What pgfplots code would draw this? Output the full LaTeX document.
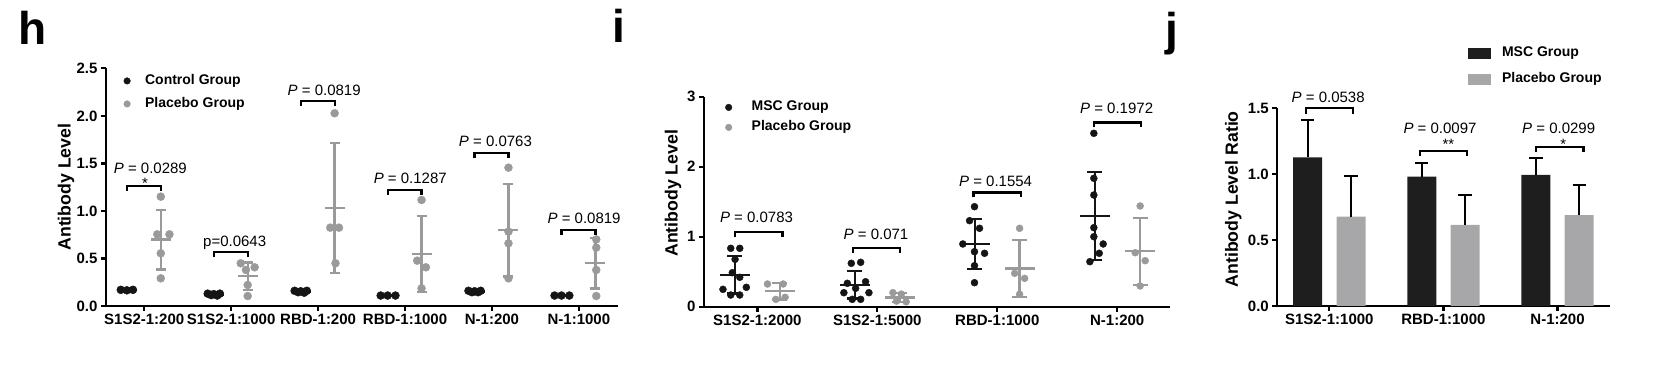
\documentclass[border=0pt]{standalone}
\usepackage{pgfplots}
\pgfplotsset{compat=1.18}
\usepackage{fontspec}
\setmainfont{Liberation Sans}
\newcommand\fs[1]{\fontsize{#1}{#1}\selectfont}
\definecolor{ctl}{HTML}{151515}
\definecolor{plc}{HTML}{9A9A9A}
\definecolor{barblk}{HTML}{1E1E1E}
\definecolor{bargry}{HTML}{A7A7A9}
\tikzset{brk/.style={line width=2.2bp, color=black}}
\pgfplotsset{
  prism/.style={
    scale only axis,
    axis lines*=left,
    axis line style={line width=2.3bp,-},
    tick style={line width=2.3bp,black},
    major tick length=5bp,
    tick align=outside,
    clip=false,
    ticklabel style={font=\fs{15bp}\bfseries},
    ylabel style={font=\fs{17.7bp}\bfseries, anchor=center},
    legend cell align=left,
  },
  meanc/.style={only marks, mark=-, mark size=#1, color=ctl, mark options={line width=2.3bp},
    forget plot, error bars/y dir=both, error bars/y explicit, error bars/error mark=-,
    error bars/error bar style={line width=2.3bp, color=ctl}},
  meanp/.style={only marks, mark=-, mark size=#1, color=plc, mark options={line width=2.3bp},
    forget plot, error bars/y dir=both, error bars/y explicit, error bars/error mark=-,
    error bars/error bar style={line width=2.3bp, color=plc}},
}
\begin{document}
\begin{tikzpicture}
\useasboundingbox (0,0) rectangle (1672bp,366bp);
\node[anchor=base west, font=\fs{46bp}\bfseries, inner sep=0pt] at (18bp,321bp) {h};
\node[anchor=base west, font=\fs{46bp}\bfseries, inner sep=0pt] at (612bp,323bp) {i};
\node[anchor=base west, font=\fs{46bp}\bfseries, inner sep=0pt] at (1165bp,320.5bp) {j};

% ---------------- panel h ----------------
\begin{axis}[prism, at={(106bp,60bp)}, anchor=south west, width=512bp, height=237.7bp,
  xmin=-0.44, xmax=5.45, ymin=0, ymax=2.5,
  xtick={0,1,2,3,4,5},
  xticklabels={S1S2-1:200,S1S2-1:1000,RBD-1:200,RBD-1:1000,N-1:200,N-1:1000},
  ytick={0,0.5,1,1.5,2,2.5}, yticklabels={0.0,0.5,1.0,1.5,2.0,2.5},
  ylabel={Antibody Level}, ylabel style={at={(axis description cs:-0.078,0.5)}},
  legend image code/.code={\path[draw=none,fill=none] (-3.5bp,0bp) rectangle (18bp,0bp); \fill[#1] (0bp,0bp) circle (3.3bp);},
  legend style={at={(axis description cs:0.034,0.975)}, anchor=north west, draw=none, fill=none,
    inner sep=0pt, font=\fs{14bp}\bfseries, row sep=10bp, column sep=0pt,
    nodes={inner sep=0pt, text height=10bp, text depth=3bp}},
]
\addlegendimage{ctl}\addlegendentry{Control Group}
\addlegendimage{plc}\addlegendentry{Placebo Group}
% control points
\addplot[only marks, mark=*, mark size=4bp, color=ctl, forget plot] coordinates {
 (-0.27,0.170) (-0.20,0.165) (-0.13,0.170)
 (0.73,0.130) (0.77,0.115) (0.80,0.125) (0.84,0.110) (0.87,0.130)
 (1.73,0.160) (1.77,0.145) (1.80,0.155) (1.84,0.140) (1.87,0.160)
 (2.72,0.110) (2.80,0.110) (2.89,0.110)
 (3.73,0.160) (3.77,0.145) (3.80,0.155) (3.84,0.145) (3.87,0.160)
 (4.72,0.110) (4.80,0.110) (4.89,0.110)
};
% placebo points
\addplot[only marks, mark=*, mark size=4bp, color=plc, forget plot] coordinates {
 (0.19,1.150) (0.15,0.754) (0.29,0.754) (0.19,0.554) (0.19,0.291)
 (1.11,0.449) (1.17,0.379) (1.27,0.407) (1.19,0.221) (1.19,0.105)
 (2.19,2.027) (2.14,0.824) (2.24,0.824) (2.20,0.449)
 (3.19,1.115) (3.14,0.477) (3.24,0.407) (3.19,0.186)
 (4.19,1.455) (4.19,0.782) (4.19,0.659) (4.19,0.291)
 (5.20,0.700) (5.20,0.614) (5.20,0.379) (5.20,0.105)
};
\addplot[meanc=10bp, error bars/error mark options={rotate=90, mark size=5bp, line width=2.3bp, color=ctl}] coordinates {
 (-0.2,0.168) +- (0,0.003) (0.8,0.122) +- (0,0.009) (1.8,0.152) +- (0,0.009)
 (2.8,0.110) +- (0,0.001) (3.8,0.153) +- (0,0.007) (4.8,0.110) +- (0,0.001)
};
\addplot[meanp=10bp, error bars/error mark options={rotate=90, mark size=5bp, line width=2.3bp, color=plc}] coordinates {
 (0.19,0.698) +- (0,0.315) (1.19,0.312) +- (0,0.144) (2.19,1.031) +- (0,0.687)
 (3.19,0.546) +- (0,0.399) (4.19,0.797) +- (0,0.486) (5.19,0.450) +- (0,0.267)
};
\draw[brk] (axis cs:-0.2,1.213) -- (axis cs:-0.2,1.266) -- (axis cs:0.19,1.266) -- (axis cs:0.19,1.213);
\draw[brk] (axis cs:0.8,0.512) -- (axis cs:0.8,0.565) -- (axis cs:1.19,0.565) -- (axis cs:1.19,0.512);
\draw[brk] (axis cs:1.8,2.107) -- (axis cs:1.8,2.160) -- (axis cs:2.19,2.160) -- (axis cs:2.19,2.107);
\draw[brk] (axis cs:2.8,1.167) -- (axis cs:2.8,1.220) -- (axis cs:3.19,1.220) -- (axis cs:3.19,1.167);
\draw[brk] (axis cs:3.8,1.553) -- (axis cs:3.8,1.606) -- (axis cs:4.19,1.606) -- (axis cs:4.19,1.553);
\draw[brk] (axis cs:4.8,0.747) -- (axis cs:4.8,0.800) -- (axis cs:5.19,0.800) -- (axis cs:5.19,0.747);
\node[font=\fs{15bp}, inner sep=0pt] at (axis cs:0.07,1.45) {\textit{P} = 0.0289};
\node[font=\fs{15bp}, inner sep=0pt, anchor=base] at (axis cs:0.01,1.235) {*};
\node[font=\fs{15bp}, inner sep=0pt] at (axis cs:1.04,0.666) {p=0.0643};
\node[font=\fs{15bp}, inner sep=0pt] at (axis cs:2.07,2.27) {\textit{P} = 0.0819};
\node[font=\fs{15bp}, inner sep=0pt] at (axis cs:3.06,1.343) {\textit{P} = 0.1287};
\node[font=\fs{15bp}, inner sep=0pt] at (axis cs:4.04,1.73) {\textit{P} = 0.0763};
\node[font=\fs{15bp}, inner sep=0pt] at (axis cs:5.06,0.922) {\textit{P} = 0.0819};
\end{axis}

% ---------------- panel i ----------------
\begin{axis}[prism, at={(704bp,59.3bp)}, anchor=south west, width=466bp, height=210bp,
  xmin=-0.445, xmax=3.44, ymin=0, ymax=3,
  xtick={0,1,2,3}, xticklabels={S1S2-1:2000,S1S2-1:5000,RBD-1:1000,N-1:200},
  ytick={0,1,2,3}, yticklabels={0,1,2,3},
  ylabel={Antibody Level}, ylabel style={at={(axis description cs:-0.0665,0.54)}},
  legend image code/.code={\path[draw=none,fill=none] (-3.5bp,0bp) rectangle (23bp,0bp); \fill[#1] (0bp,0bp) circle (3.3bp);},
  legend style={at={(axis description cs:0.045,0.981)}, anchor=north west, draw=none, fill=none,
    inner sep=0pt, font=\fs{14bp}\bfseries, row sep=7bp, column sep=0pt,
    nodes={inner sep=0pt, text height=10bp, text depth=3bp}},
]
\addlegendimage{ctl}\addlegendentry{MSC Group}
\addlegendimage{plc}\addlegendentry{Placebo Group}
\addplot[only marks, mark=*, mark size=3.5bp, color=ctl, forget plot] coordinates {
 (-0.222,0.834) (-0.147,0.834) (-0.186,0.677) (-0.209,0.486) (-0.147,0.420)
 (-0.287,0.248) (-0.222,0.167) (-0.147,0.167) (-0.092,0.277)
 (0.783,0.620) (0.861,0.634) (0.750,0.334) (0.902,0.357) (0.721,0.200)
 (0.819,0.263) (0.930,0.200) (0.791,0.105) (0.861,0.105)
 (1.810,1.429) (1.769,1.229) (1.852,1.120) (1.713,0.896) (1.810,0.786)
 (1.894,0.763) (1.810,0.586) (1.810,0.343)
 (2.805,2.477) (2.805,1.834) (2.805,1.595) (2.805,1.129) (2.805,1.000)
 (2.883,0.896) (2.850,0.763) (2.772,0.643)
};
\addplot[only marks, mark=*, mark size=3.5bp, color=plc, forget plot] coordinates {
 (0.084,0.324) (0.215,0.324) (0.154,0.105) (0.231,0.134)
 (1.130,0.200) (1.200,0.180) (1.160,0.080) (1.240,0.070)
 (2.186,1.120) (2.145,0.477) (2.228,0.405) (2.186,0.177)
 (3.191,1.439) (3.150,0.771) (3.233,0.657) (3.191,0.296)
};
\addplot[meanc=15bp, error bars/error mark options={rotate=90, mark size=7.5bp, line width=2.3bp, color=ctl}] coordinates {
 (-0.187,0.457) +- (0,0.269) (0.813,0.313) +- (0,0.198)
 (1.813,0.894) +- (0,0.354) (2.813,1.292) +- (0,0.628)
};
\addplot[meanp=15bp, error bars/error mark options={rotate=90, mark size=7.5bp, line width=2.3bp, color=plc}] coordinates {
 (0.186,0.222) +- (0,0.119) (1.186,0.133) +- (0,0.067)
 (2.186,0.545) +- (0,0.404) (3.191,0.791) +- (0,0.477)
};
\draw[brk] (axis cs:-0.186,1.0) -- (axis cs:-0.186,1.07) -- (axis cs:0.209,1.07) -- (axis cs:0.209,1.0);
\draw[brk] (axis cs:0.794,0.764) -- (axis cs:0.794,0.834) -- (axis cs:1.19,0.834) -- (axis cs:1.19,0.764);
\draw[brk] (axis cs:1.802,1.56) -- (axis cs:1.802,1.63) -- (axis cs:2.201,1.63) -- (axis cs:2.201,1.56);
\draw[brk] (axis cs:2.803,2.56) -- (axis cs:2.803,2.63) -- (axis cs:3.198,2.63) -- (axis cs:3.198,2.56);
\node[font=\fs{15bp}, inner sep=0pt] at (axis cs:-0.007,1.277) {\textit{P} = 0.0783};
\node[font=\fs{15bp}, inner sep=0pt] at (axis cs:0.989,1.04) {\textit{P} = 0.071};
\node[font=\fs{15bp}, inner sep=0pt] at (axis cs:1.986,1.796) {\textit{P} = 0.1554};
\node[font=\fs{15bp}, inner sep=0pt] at (axis cs:2.995,2.83) {\textit{P} = 0.1972};
\end{axis}

% ---------------- panel j ----------------
\begin{axis}[prism, at={(1277.3bp,60bp)}, anchor=south west, width=332.7bp, height=197.7bp,
  xmin=-0.456, xmax=2.46, ymin=0, ymax=1.5,
  xtick={0,1,2}, xticklabels={S1S2-1:1000,RBD-1:1000,N-1:200},
  ytick={0,0.5,1,1.5}, yticklabels={0.0,0.5,1.0,1.5},
  ylabel={Antibody Level Ratio}, ylabel style={at={(axis description cs:-0.132,0.54)}},
  legend image code/.code={\path[draw=none,fill=none] (0bp,0bp) rectangle (33.7bp,0bp); \fill[#1] (0bp,-5bp) rectangle (22bp,5bp);},
  legend style={at={(axis description cs:0.573,1.315)}, anchor=north west, draw=none, fill=none,
    inner sep=0pt, font=\fs{14bp}\bfseries, row sep=13.7bp, column sep=0pt,
    nodes={inner sep=0pt, text height=10bp, text depth=3bp}},
]
\addlegendimage{barblk}\addlegendentry{MSC Group}
\addlegendimage{bargry}\addlegendentry{Placebo Group}
\addplot[ybar, bar width=29bp, bar shift=0pt, fill=barblk, draw=none, forget plot,
  error bars/.cd, y dir=plus, y explicit, error mark=-,
  error bar style={line width=2bp, draw=black},
  error mark options={rotate=90, mark size=6.7bp, line width=2bp, draw=black}] coordinates {
 (-0.19,1.128) +- (0,0.284) (0.81,0.982) +- (0,0.106) (1.81,0.994) +- (0,0.126)
};
\addplot[ybar, bar width=29bp, bar shift=0pt, fill=bargry, draw=none, forget plot,
  error bars/.cd, y dir=plus, y explicit, error mark=-,
  error bar style={line width=2bp, draw=black},
  error mark options={rotate=90, mark size=6.7bp, line width=2bp, draw=black}] coordinates {
 (0.19,0.678) +- (0,0.311) (1.19,0.615) +- (0,0.227) (2.19,0.690) +- (0,0.228)
};
\draw[brk] (axis cs:-0.204,1.46) -- (axis cs:-0.204,1.5) -- (axis cs:0.205,1.5) -- (axis cs:0.205,1.46);
\draw[brk] (axis cs:0.796,1.138) -- (axis cs:0.796,1.176) -- (axis cs:1.205,1.176) -- (axis cs:1.205,1.138);
\draw[brk] (axis cs:1.813,1.166) -- (axis cs:1.813,1.204) -- (axis cs:2.228,1.204) -- (axis cs:2.228,1.166);
\node[font=\fs{15bp}, inner sep=0pt] at (axis cs:-0.01,1.58) {\textit{P} = 0.0538};
\node[font=\fs{15bp}, inner sep=0pt] at (axis cs:0.97,1.345) {\textit{P} = 0.0097};
\node[font=\fs{15bp}, inner sep=0pt, anchor=base] at (axis cs:1.044,1.19) {**};
\node[font=\fs{15bp}, inner sep=0pt] at (axis cs:2.01,1.35) {\textit{P} = 0.0299};
\node[font=\fs{15bp}, inner sep=0pt, anchor=base] at (axis cs:2.05,1.19) {*};
\end{axis}
\end{tikzpicture}
\end{document}
